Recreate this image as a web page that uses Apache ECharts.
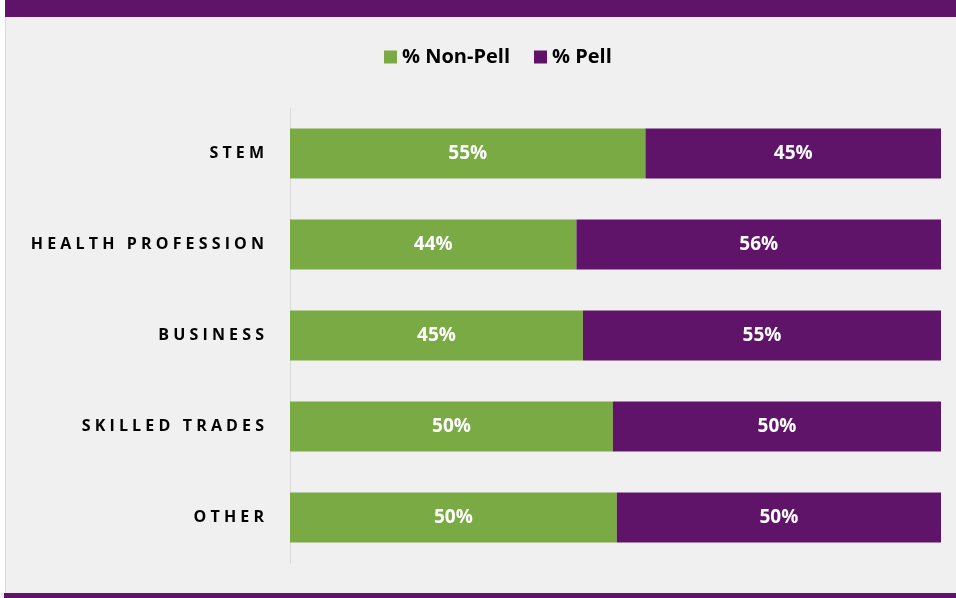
<!DOCTYPE html>
<html>
<head>
<meta charset="utf-8">
<script src="https://cdn.jsdelivr.net/npm/echarts@6/dist/echarts.min.js"></script>
<style>
  html, body { margin: 0; padding: 0; background: #ffffff; }
  #main { width: 956px; height: 598px; }
</style>
</head>
<body>
<div id="main"></div>
<script>
var categories = ['STEM', 'HEALTH PROFESSION', 'BUSINESS', 'SKILLED TRADES', 'OTHER'];
var nonPell = [54.6, 44, 45, 49.6, 50.2];
var pell = [45.4, 56, 55, 50.4, 49.8];
var seriesNames = ['% Non-Pell', '% Pell'];

var green = '#79aa43';
var purple = '#5f1469';
var font = 'Open Sans';

// spread the letters out like the original's character spacing
function spaced(s) {
  return s.split(' ').map(function(w) {
    return w.split('').join(' ');
  }).join('   ');
}

function pct(p) {
  return Math.round(p.value) + '%';
}

var myChart = echarts.init(document.getElementById('main'));

var valueLabel = { show: true, position: 'inside', formatter: pct, color: '#ffffff', fontSize: 19, fontWeight: 'bold', fontFamily: font };

var option = {
  backgroundColor: '#f0f0f0',
  textStyle: { fontFamily: font },
  graphic: [
    { type: 'rect', shape: { x: 5, y: 0, width: 951, height: 17 }, style: { fill: purple } },
    { type: 'rect', shape: { x: 4, y: 593, width: 952, height: 5 }, style: { fill: purple } },
    { type: 'rect', shape: { x: 0, y: 0, width: 5, height: 593 }, style: { fill: '#ffffff' } },
    { type: 'line', shape: { x1: 5.5, y1: 17, x2: 5.5, y2: 593 }, style: { stroke: '#d9d9d9', lineWidth: 1 } }
  ],
  legend: {
    data: seriesNames,
    left: 379,
    top: 42,
    itemWidth: 13,
    itemHeight: 13,
    itemGap: 24,
    icon: 'rect',
    textStyle: { fontSize: 20, fontWeight: 'bold', color: '#000000', fontFamily: font }
  },
  grid: { left: 290, right: 15, top: 108, bottom: 35, containLabel: false },
  xAxis: {
    type: 'value',
    min: 0,
    max: 100,
    show: false
  },
  yAxis: {
    type: 'category',
    data: categories,
    inverse: true,
    axisLine: { show: true, lineStyle: { color: '#d9d9d9', width: 1 } },
    axisTick: { show: false },
    axisLabel: {
      margin: 26,
      fontSize: 16,
      fontWeight: 'bold',
      color: '#000000',
      fontFamily: font,
      formatter: spaced
    }
  },
  series: [{
    name: seriesNames[0],
    type: 'bar',
    stack: 'total',
    barWidth: 50,
    data: nonPell,
    itemStyle: { color: green },
    label: valueLabel
  }, {
    name: seriesNames[1],
    type: 'bar',
    stack: 'total',
    barWidth: 50,
    data: pell,
    itemStyle: { color: purple },
    label: valueLabel
  }]
};

myChart.setOption(option);
</script>
</body>
</html>
